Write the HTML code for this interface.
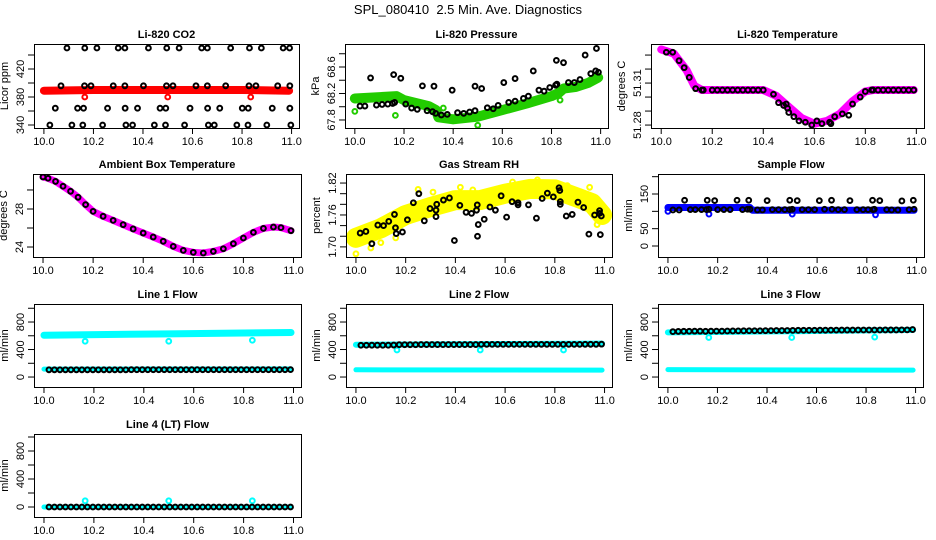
<!DOCTYPE html>
<html><head><meta charset="utf-8">
<style>
html,body{margin:0;padding:0;background:#fff;}
svg{display:block;font-family:"Liberation Sans",Arial,sans-serif;}
</style></head>
<body>
<svg id="chart" width="936" height="540" viewBox="0 0 936 540" xmlns="http://www.w3.org/2000/svg">
<text x="468" y="14" text-anchor="middle" font-size="13">SPL_080410 &#160;2.5 Min. Ave. Diagnostics</text>
</svg>
<script>
// ---- shared ----
const xTicks = [10.0, 10.2, 10.4, 10.6, 10.8, 11.0];
const xTickLabels = ["10.0", "10.2", "10.4", "10.6", "10.8", "11.0"];
const flowX = [10.02,10.042,10.064,10.086,10.108,10.13,10.152,10.174,10.196,10.218,10.24,10.262,10.284,10.306,10.328,10.35,10.372,10.394,10.416,10.438,10.46,10.482,10.504,10.526,10.548,10.57,10.592,10.614,10.636,10.658,10.68,10.702,10.724,10.746,10.768,10.79,10.812,10.834,10.856,10.878,10.9,10.922,10.944,10.966,10.988];

// ---- CO2 ----
const co2BandX = [10.0, 10.2, 10.4, 10.6, 10.8, 10.99];
const co2BandY = [389, 390, 390, 390, 390, 389];
const co2RedX = [10.165, 10.5, 10.835];
const co2RedY = [380, 380, 380];
const co2BlackX = [10.093,10.165,10.214,10.3,10.327,10.422,10.496,10.546,10.637,10.66,10.754,10.83,10.878,10.966,10.992,
 10.069,10.164,10.19,10.28,10.327,10.402,10.495,10.521,10.614,10.66,10.734,10.828,10.856,10.944,10.993,
 10.046,10.136,10.16,10.257,10.328,10.378,10.469,10.492,10.59,10.661,10.71,10.801,10.825,10.922,10.993,
 10.024,10.113,10.157,10.237,10.331,10.358,10.446,10.491,10.568,10.664,10.688,10.779,10.824,10.9,10.997];
const co2BlackY = [450,450,450,450,450,450,450,450,450,450,450,450,450,450,450,
 396,396,396,396,396,396,396,396,396,396,396,396,396,396,396,
 364,364,364,364,364,364,364,364,364,364,364,364,364,364,364,
 340,340,340,340,340,340,340,340,340,340,340,340,340,340,340];

// ---- Pressure ----
const presBandX = [10.0,10.17,10.2,10.3,10.33,10.34,10.4,10.5,10.6,10.7,10.8,10.83,10.85,10.9,10.95,10.99];
const presBandY = [68.125,68.16,68.1,68.01,67.95,67.84,67.81,67.85,67.95,68.05,68.16,68.21,68.275,68.3,68.36,68.44];
const presGreenX = [10.0,10.165,10.36,10.5,10.835];
const presGreenY = [67.93,67.87,67.98,67.72,68.1];
const presBlackX = [10.021,10.041,10.088,10.111,10.134,10.154,10.162,10.207,10.231,10.254,10.294,10.316,10.329,10.352,10.376,10.418,10.443,10.467,10.489,10.539,10.563,10.583,10.626,10.652,10.686,10.706,10.749,10.77,10.793,10.817,10.822,10.869,10.893,10.916,10.98,10.991,10.064,10.158,10.187,10.275,10.322,10.396,10.489,10.516,10.606,10.652,10.726,10.82,10.849,10.937,10.96,10.983];
const presBlackY = [68.01,68.01,68.025,68.035,68.04,68.05,68.065,68.04,67.98,67.96,67.94,67.925,67.9,67.875,67.885,67.91,67.9,67.92,67.94,67.985,67.97,68.02,68.065,68.085,68.125,68.16,68.25,68.235,68.29,68.325,68.34,68.365,68.365,68.41,68.54,68.52,68.435,68.485,68.43,68.315,68.31,68.25,68.31,68.275,68.365,68.425,68.54,68.7,68.665,68.78,68.5,68.88];

// ---- Li-820 temperature ----
const ltBandX = [10.0,10.05,10.1,10.13,10.16,10.4,10.45,10.5,10.55,10.6,10.65,10.7,10.75,10.8,10.83,10.99];
const ltBandY = [51.334,51.331,51.319,51.308,51.305,51.305,51.301,51.293,51.285,51.281,51.283,51.288,51.297,51.304,51.305,51.305];
const ltBlackX = [10.02,10.045,10.07,10.09,10.11,10.135,10.16,10.165,10.2,10.22,10.24,10.26,10.28,10.3,10.32,10.34,10.36,10.38,10.4,10.44,10.46,10.48,10.49,10.495,10.5,10.52,10.54,10.565,10.59,10.61,10.63,10.66,10.665,10.68,10.71,10.735,10.75,10.78,10.8,10.825,10.83,10.85,10.87,10.89,10.91,10.93,10.95,10.97,10.99];
const ltBlackY = [51.332,51.332,51.326,51.321,51.314,51.306,51.305,51.305,51.305,51.305,51.305,51.305,51.305,51.305,51.305,51.305,51.305,51.305,51.305,51.302,51.296,51.294,51.295,51.292,51.289,51.286,51.283,51.282,51.28,51.283,51.281,51.282,51.281,51.286,51.288,51.287,51.295,51.3,51.304,51.305,51.305,51.305,51.305,51.305,51.305,51.305,51.305,51.305,51.305];

// ---- Ambient box temperature ----
const abX = [10.0,10.02,10.05,10.08,10.11,10.14,10.17,10.2,10.24,10.28,10.32,10.36,10.4,10.44,10.48,10.52,10.56,10.6,10.64,10.68,10.72,10.76,10.8,10.84,10.88,10.92,10.95,10.99];
const abY = [31.37,31.23,30.9,30.39,29.86,29.23,28.46,27.75,27.23,26.8,26.35,25.9,25.47,25.05,24.6,24.07,23.65,23.44,23.37,23.54,23.82,24.35,24.95,25.54,25.96,26.1,26.04,25.72];

// ---- Gas stream RH ----
const rhBandX = [10.0,10.1,10.2,10.3,10.4,10.5,10.6,10.7,10.8,10.9,10.95,10.99];
const rhBandY = [1.717,1.735,1.76,1.775,1.788,1.788,1.80,1.809,1.808,1.791,1.782,1.76];
const rhYellowX = [10.0,10.06,10.1,10.16,10.25,10.31,10.42,10.47,10.63,10.73,10.85,10.94,10.97];
const rhYellowY = [1.687,1.698,1.708,1.717,1.808,1.803,1.812,1.807,1.822,1.826,1.815,1.812,1.742];
const rhBlackX = [10.017,10.04,10.064,10.088,10.111,10.132,10.155,10.159,10.162,10.187,10.207,10.231,10.253,10.275,10.298,10.325,10.322,10.322,10.352,10.376,10.396,10.418,10.443,10.465,10.485,10.488,10.489,10.492,10.516,10.539,10.561,10.584,10.606,10.628,10.652,10.652,10.694,10.726,10.749,10.77,10.794,10.817,10.82,10.822,10.822,10.846,10.87,10.893,10.916,10.937,10.96,10.98,10.98,10.987,10.983];
const rhBlackY = [1.726,1.729,1.706,1.741,1.740,1.748,1.761,1.736,1.725,1.728,1.751,1.783,1.800,1.749,1.772,1.780,1.769,1.757,1.788,1.792,1.712,1.778,1.765,1.763,1.769,1.779,1.720,1.742,1.752,1.775,1.769,1.796,1.756,1.785,1.783,1.779,1.779,1.754,1.791,1.801,1.794,1.811,1.806,1.785,1.780,1.758,1.761,1.784,1.774,1.724,1.760,1.768,1.763,1.758,1.723];

// ---- Sample flow ----
const sfBandX = [10.0,10.33,10.34,10.99];
const sfBandY = [111,111,103,103];
const sfBlueX = [10.0,10.165,10.5,10.835];
const sfBlueY = [100,92,92,90];
const sfBlackX = [10.067,10.158,10.188,10.278,10.325,10.399,10.49,10.52,10.609,10.658,10.732,10.823,10.852,10.941,10.987,
 10.02,10.045,10.09,10.11,10.135,10.155,10.165,10.2,10.225,10.25,10.3,10.32,10.33,10.36,10.38,10.42,10.445,10.47,10.49,10.5,10.54,10.565,10.59,10.63,10.66,10.685,10.71,10.76,10.785,10.805,10.825,10.83,10.88,10.9,10.925,10.97,10.99];
const sfBlackY = [132,132,131,132,132,131,132,131,131,132,131,132,131,130,132,
 104,104,105,105,105,105,106,105,105,105,105,106,106,104,104,105,105,105,105,106,105,105,105,106,106,105,105,105,105,105,105,106,105,104,104,105,106];

// ---- Line 1 flow ----
const l1UpperX = [10.0,10.5,10.99];
const l1UpperY = [608,628,647];
const l1LowerX = [10.0,10.99];
const l1LowerY = [115,118];
const l1OutX = [10.165,10.5,10.835];
const l1OutY = [520,520,535];
const l1BlackY = [105,105,105,105,105,105,105,105,105,105,105,105,105,105,105,107,107,107,107,107,107,107,107,107,107,107,107,107,107,107,107,107,107,107,107,107,107,107,107,107,107,107,107,107,108];

// ---- Line 2 flow ----
const l2UpperX = [10.0,10.5,10.99];
const l2UpperY = [470,478,485];
const l2LowerX = [10.0,10.99];
const l2LowerY = [105,100];
const l2OutX = [10.165,10.5,10.835];
const l2OutY = [393,393,393];
const l2BlackY = [462,462,463,463,463,463,465,470,470,470,470,472,472,472,472,472,472,472,472,472,472,472,475,475,475,475,475,475,475,475,475,475,475,475,475,475,475,475,475,475,475,476,476,476,478];

// ---- Line 3 flow ----
const l3UpperX = [10.0,10.5,10.99];
const l3UpperY = [650,665,685];
const l3LowerX = [10.0,10.99];
const l3LowerY = [108,100];
const l3OutX = [10.165,10.5,10.835];
const l3OutY = [575,575,580];
const l3BlackY = [660,663,665,666,667,667,665,668,668,668,669,670,671,672,673,673,673,674,675,676,676,677,678,679,680,680,680,681,681,682,682,683,683,683,684,684,684,684,684,685,685,685,686,686,690];

// ---- Line 4 flow ----
const l4BandX = [10.0,10.99];
const l4BandY = [0,0];
const l4OutX = [10.165,10.5,10.835];
const l4OutY = [88,88,88];
const l4BlackY = [0,0,0,0,0,0,0,0,0,0,0,0,0,0,0,0,0,0,0,0,0,0,0,0,0,0,0,0,0,0,0,0,0,0,0,0,0,0,0,0,0,0,0,0,0];

const flowTicks = [0,200,400,600,800,1000];
const flowLabels = ["0","","400","","800",""];

// ---- drawing ----
const NS = "http://www.w3.org/2000/svg";
const svg = document.getElementById("chart");
function mk(tag, attrs, parent){
  const e = document.createElementNS(NS, tag);
  for (const k in attrs) e.setAttribute(k, attrs[k]);
  (parent||svg).appendChild(e);
  return e;
}
const XDOM = [9.96, 11.03];

function panel(cfg){
  const g = mk("g", {});
  
  
  const [L,T,R,B] = cfg.box;
  const sx = v => L + (v - XDOM[0]) / (XDOM[1]-XDOM[0]) * (R-L);
  const sy = v => B - (v - cfg.ydom[0]) / (cfg.ydom[1]-cfg.ydom[0]) * (B-T);
  cfg.sx = sx; cfg.sy = sy; cfg.g = g;
  const t = mk("text", {x:(L+R)/2, y:T-6, "text-anchor":"middle", "font-size":"11", "font-weight":"bold"}, g);
  t.textContent = cfg.title;
  
  
  const yl = mk("text", {x:0, y:0, "text-anchor":"middle", "font-size":"11", transform:`translate(${L-26},${(T+B)/2}) rotate(-90)`}, g);
  yl.textContent = cfg.ylab;
  
  
  const bx = mk("rect", {x:L+0.5, y:T+0.5, width:R-L, height:B-T, fill:"none", stroke:"#000", "stroke-width":"1"}, g);
  
  
  xTicks.forEach((v,i)=>{
    const x = sx(v);
    const tk = mk("line", {x1:x, y1:B, x2:x, y2:B+6, stroke:"#000"}, g);
    
    
    const tl = mk("text", {x:x, y:B+17, "text-anchor":"middle", "font-size":"11"}, g);
    tl.textContent = xTickLabels[i];
    
    
  });
  cfg.yticks.forEach((v,i)=>{
    const y = sy(v);
    const tk = mk("line", {x1:L-6, y1:y, x2:L, y2:y, stroke:"#000"}, g);
    
    
    if (cfg.ylabels[i]) {
      const tl = mk("text", {x:0, y:0, "text-anchor":"middle", "font-size":"11", transform:`translate(${L-10},${y}) rotate(-90)`}, g);
      tl.textContent = cfg.ylabels[i];
      
      
    }
  });
  const clipId = "clip-" + cfg.name;
  const cp = mk("clipPath", {id:clipId}, g);
  mk("rect", {x:L+1, y:T+1, width:R-L-1, height:B-T-1}, cp);
  cfg.plot = mk("g", {"clip-path":`url(#${clipId})`}, g);
  return cfg;
}
function band(cfg, xs, ys, color, width, name){
  const pts = xs.map((v,i)=> cfg.sx(v)+","+cfg.sy(ys[i])).join(" ");
  const p = mk("polyline", {points:pts, fill:"none", stroke:color, "stroke-width":width, "stroke-linejoin":"round", "stroke-linecap":"round"}, cfg.plot);
  
  
}
function points(cfg, xs, ys, color, name){
  xs.forEach((v,i)=>{
    const c = mk("circle", {cx:cfg.sx(v), cy:cfg.sy(ys[i]), r:2.4, fill:"none", stroke:color, "stroke-width":"2"}, cfg.plot);
    
    
  });
}

let p = panel({name:"panel-co2", title:"Li-820 CO2", ylab:"Licor ppm", box:[34,44,299,128], ydom:[335.7,455.7], yticks:[340,360,380,400,420,440], ylabels:["340","","380","","420",""]});
band(p, co2BandX, co2BandY, "#ff0000", 8, "co2-band");
points(p, co2RedX, co2RedY, "#ff0000", "co2-red-point");
points(p, co2BlackX, co2BlackY, "#000", "co2-black-point");

p = panel({name:"panel-pressure", title:"Li-820 Pressure", ylab:"kPa", box:[345,44,608,128], ydom:[67.679,68.947], yticks:[67.8,68.0,68.2,68.4,68.6,68.8], ylabels:["67.8","","68.2","","68.6",""]});
band(p, presBandX, presBandY, "#22cc00", 10, "pressure-band");
points(p, presGreenX, presGreenY, "#22cc00", "pressure-green-point");
points(p, presBlackX, presBlackY, "#000", "pressure-black-point");

p = panel({name:"panel-li820-temp", title:"Li-820 Temperature", ylab:"degrees C", box:[651,44,924,128], ydom:[51.2779,51.3379], yticks:[51.28,51.29,51.30,51.31,51.32,51.33], ylabels:["51.28","","","51.31","",""]});
band(p, ltBandX, ltBandY, "#ff00ff", 8, "li820-temp-band");
points(p, ltBlackX, ltBlackY, "#000", "li820-temp-point");

p = panel({name:"panel-ambient-temp", title:"Ambient Box Temperature", ylab:"degrees C", box:[33,174,301,257], ydom:[22.95,31.68], yticks:[24,26,28,30], ylabels:["24","","28",""]});
band(p, abX, abY, "#ff00ff", 7, "ambient-band");
points(p, abX, abY, "#000", "ambient-point");

p = panel({name:"panel-rh", title:"Gas Stream RH", ylab:"percent", box:[346,174,612,257], ydom:[1.681,1.837], yticks:[1.70,1.72,1.74,1.76,1.78,1.80,1.82], ylabels:["1.70","","","1.76","","","1.82"]});
band(p, rhBandX, rhBandY, "#ffff00", 20, "rh-band");
points(p, rhYellowX, rhYellowY, "#ffff00", "rh-yellow-point");
points(p, rhBlackX, rhBlackY, "#000", "rh-black-point");

p = panel({name:"panel-sample-flow", title:"Sample Flow", ylab:"ml/min", box:[658,174,924,257], ydom:[-31.7,207.7], yticks:[0,50,100,150,200], ylabels:["0","50","","150",""]});
band(p, sfBandX, sfBandY, "#0000ff", 7, "sample-flow-band");
points(p, sfBlueX, sfBlueY, "#0000ff", "sample-flow-blue-point");
points(p, sfBlackX, sfBlackY, "#000", "sample-flow-black-point");

p = panel({name:"panel-line1-flow", title:"Line 1 Flow", ylab:"ml/min", box:[34,304,301,387], ydom:[-145,1062], yticks:flowTicks, ylabels:flowLabels});
band(p, l1UpperX, l1UpperY, "#00ffff", 7, "line1-upper-band");
band(p, l1LowerX, l1LowerY, "#00ffff", 5, "line1-lower-band");
points(p, l1OutX, l1OutY, "#00ffff", "line1-outlier");
points(p, flowX, l1BlackY, "#000", "line1-black-point");

p = panel({name:"panel-line2-flow", title:"Line 2 Flow", ylab:"ml/min", box:[346,304,612,387], ydom:[-145,1062], yticks:flowTicks, ylabels:flowLabels});
band(p, l2UpperX, l2UpperY, "#00ffff", 6, "line2-upper-band");
band(p, l2LowerX, l2LowerY, "#00ffff", 5, "line2-lower-band");
points(p, l2OutX, l2OutY, "#00ffff", "line2-outlier");
points(p, flowX, l2BlackY, "#000", "line2-black-point");

p = panel({name:"panel-line3-flow", title:"Line 3 Flow", ylab:"ml/min", box:[658,304,923,387], ydom:[-145,1062], yticks:flowTicks, ylabels:flowLabels});
band(p, l3UpperX, l3UpperY, "#00ffff", 6, "line3-upper-band");
band(p, l3LowerX, l3LowerY, "#00ffff", 5, "line3-lower-band");
points(p, l3OutX, l3OutY, "#00ffff", "line3-outlier");
points(p, flowX, l3BlackY, "#000", "line3-black-point");

p = panel({name:"panel-line4-flow", title:"Line 4 (LT) Flow", ylab:"ml/min", box:[34,434,301,517], ydom:[-143,1043], yticks:flowTicks, ylabels:flowLabels});
band(p, l4BandX, l4BandY, "#00ffff", 5, "line4-band");
points(p, l4OutX, l4OutY, "#00ffff", "line4-outlier");
points(p, flowX, l4BlackY, "#000", "line4-black-point");
</script>
</body></html>
